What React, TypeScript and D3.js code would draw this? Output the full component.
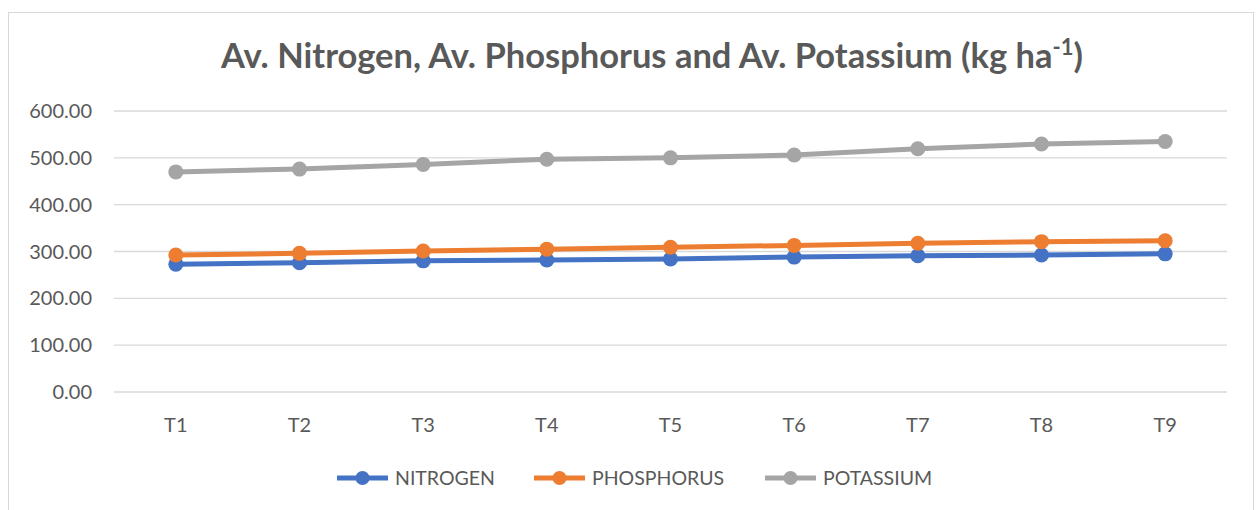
import React from 'react';
import * as d3 from 'd3';

const categories = ['T1', 'T2', 'T3', 'T4', 'T5', 'T6', 'T7', 'T8', 'T9'];
const nitrogen = [273, 276, 280, 282, 284, 288, 291, 292.5, 295];
const phosphorus = [292.5, 296, 301, 305, 309, 313, 317.5, 321, 323];
const potassium = [470, 476, 486, 497, 500, 506, 519.5, 529.5, 535];
const yTicks = [0, 100, 200, 300, 400, 500, 600];

const seriesList = [
    { name: 'NITROGEN', values: nitrogen, color: '#4472C4' },
    { name: 'PHOSPHORUS', values: phosphorus, color: '#ED7D31' },
    { name: 'POTASSIUM', values: potassium, color: '#A5A5A5' },
];

const FONT = 'Lato, "Open Sans", sans-serif';
const TEXT = '#595959';

const App: React.FC = () => {
    const width = 1257;
    const height = 510;
    const plotLeft = 114;
    const plotRight = 1227;

    const x = d3.scaleBand<string>().domain(categories).range([plotLeft, plotRight]);
    const y = d3.scaleLinear().domain([0, 600]).range([392, 111]);
    const line = d3.line<number>((d, i) => x(categories[i])! + x.bandwidth() / 2, d => y(d));

    const legendX = [337, 534, 765];

    return (
        <svg width={width} height={height} style={{ position: 'absolute', left: 0, top: 0 }}
            fontFamily={FONT}>
            <rect x={0} y={0} width={width} height={height} fill="white" />
            <rect x={8.5} y={12.5} width={1245} height={520} fill="white" stroke="#D9D9D9" />
            <text x={652} y={68} textAnchor="middle" fontSize={34.5} fontWeight="bold" fill={TEXT}>
                Av. Nitrogen, Av. Phosphorus and Av. Potassium (kg ha
                <tspan dy={-13} fontSize={22}>-1</tspan>
                <tspan dy={13}>)</tspan>
            </text>
            <g>
                {yTicks.map(t => (
                    <g key={t}>
                        <line x1={plotLeft} x2={plotRight} y1={y(t)} y2={y(t)} stroke="#D9D9D9" strokeWidth={1.3} />
                        <text x={92} y={y(t)} dy="0.35em" textAnchor="end" fontSize={20} fill={TEXT}>
                            {d3.format('.2f')(t)}
                        </text>
                    </g>
                ))}
            </g>
            <g>
                {categories.map(c => (
                    <text key={c} x={x(c)! + x.bandwidth() / 2} y={425} dy="0.35em" textAnchor="middle"
                        fontSize={20} fill={TEXT}>{c}</text>
                ))}
            </g>
            {seriesList.map(s => (
                <g key={s.name}>
                    <path d={line(s.values)!} fill="none" stroke={s.color} strokeWidth={5} strokeLinejoin="round" />
                    {s.values.map((v, i) => (
                        <circle key={i} cx={x(categories[i])! + x.bandwidth() / 2} cy={y(v)} r={7.5} fill={s.color} />
                    ))}
                </g>
            ))}
            <g>
                {seriesList.map((s, i) => (
                    <g key={s.name} transform={`translate(${legendX[i]},478)`}>
                        <line x1={0} x2={51} y1={0} y2={0} stroke={s.color} strokeWidth={5} />
                        <circle cx={25.5} cy={0} r={7} fill={s.color} />
                        <text x={58} y={0} dy="0.35em" fontSize={19.5} fill={TEXT}>{s.name}</text>
                    </g>
                ))}
            </g>
        </svg>
    );
};

export default App;
